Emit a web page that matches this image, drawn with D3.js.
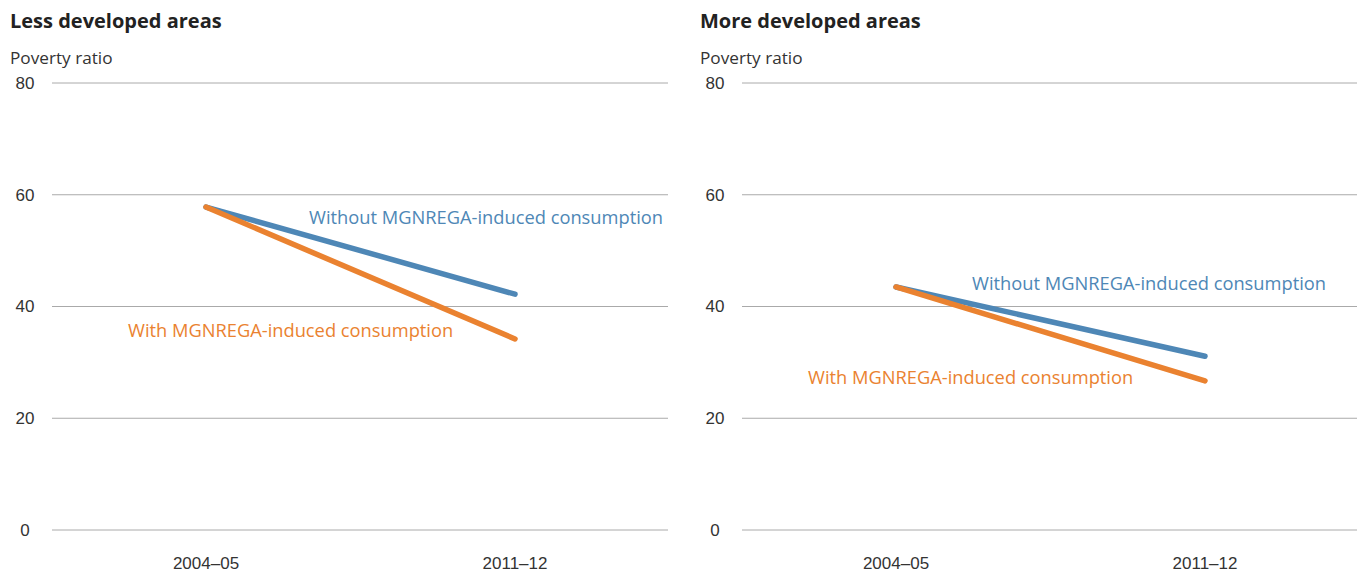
<!DOCTYPE html>
<html><head><meta charset="utf-8">
<script src="https://cdn.jsdelivr.net/npm/d3@7"></script>
<style>body{margin:0;background:#fff}svg{display:block}</style>
</head><body>
<svg id="c" width="1357" height="573"></svg>
<script>
const categories = ["2004–05", "2011–12"];
const yTicks = [0, 20, 40, 60, 80];
const panelTitles = ["Less developed areas", "More developed areas"];
const seriesNames = ["Without MGNREGA-induced consumption", "With MGNREGA-induced consumption"];
const lessWithout = [57.8, 42.2];
const lessWith = [57.8, 34.2];
const moreWithout = [43.5, 31.1];
const moreWith = [43.5, 26.7];

const colors = ["#4e87b6", "#ea8230"];
const panels = [
  {title: panelTitles[0], series: [lessWithout, lessWith], ox: 0,
   labels: [{x: 663, v: 55.9, anchor: "end"}, {x: 128, v: 35.7, anchor: "start"}]},
  {title: panelTitles[1], series: [moreWithout, moreWith], ox: 690,
   labels: [{x: 636, v: 44.1, anchor: "end"}, {x: 118, v: 27.3, anchor: "start"}]}
];

const svg = d3.select("#c");
const font = "'Open Sans', Lato, sans-serif";
const numFont = "'Liberation Sans', Arial, sans-serif";
const y = d3.scaleLinear().domain([0, 80]).range([530, 83]);

panels.forEach(p => {
  const g = svg.append("g").attr("transform", `translate(${p.ox},0)`);
  const x = d3.scalePoint().domain(categories).range([206, 515]);
  g.append("text").attr("x", 10).attr("y", 28).text(p.title)
    .style("font-family", font).style("font-weight", "700").style("font-size", "20px").attr("fill", "#222");
  g.append("text").attr("x", 10).attr("y", 64).text("Poverty ratio")
    .style("font-family", font).style("font-size", "17.2px").attr("fill", "#333");
  g.selectAll(".grid").data(yTicks).join("line")
    .attr("x1", 52).attr("x2", 668).attr("y1", d => y(d)).attr("y2", d => y(d))
    .attr("stroke", "#aaa").attr("stroke-width", 1);
  g.selectAll(".yt").data(yTicks).join("text")
    .attr("x", 25).attr("y", d => y(d)).attr("dy", "0.35em").attr("text-anchor", "middle")
    .text(d => d).style("font-family", numFont).style("font-size", "17px").attr("fill", "#333");
  g.selectAll(".xt").data(categories).join("text")
    .attr("x", d => x(d)).attr("y", 569).attr("text-anchor", "middle")
    .text(d => d).style("font-family", numFont).style("font-size", "17px").attr("fill", "#333");
  const line = d3.line().x((d, i) => x(categories[i])).y(d => y(d));
  [0, 1].forEach(si => {
    g.append("path").datum(p.series[si]).attr("d", line)
      .attr("fill", "none").attr("stroke", colors[si]).attr("stroke-width", 5.5)
      .attr("stroke-linecap", "round");
  });
  p.labels.forEach((l, si) => {
    g.append("text").attr("x", l.x).attr("y", y(l.v)).attr("dy", "0.35em")
      .attr("text-anchor", l.anchor).text(seriesNames[si])
      .style("font-family", font).style("font-size", "18.3px").attr("fill", colors[si]);
  });
});
</script>
</body></html>
